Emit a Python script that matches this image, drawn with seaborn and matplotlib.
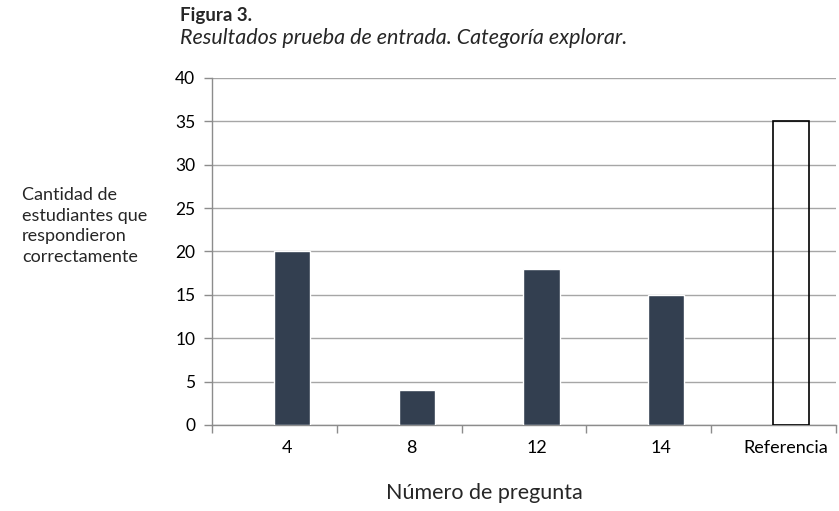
import matplotlib
matplotlib.use("Agg")
import matplotlib.pyplot as plt
import numpy as np
import pandas as pd
import seaborn as sns

# data
preguntas = ["4", "8", "12", "14", "Referencia"]
estudiantes = [20, 4, 18, 15, 35]
y_ticks = [0, 5, 10, 15, 20, 25, 30, 35, 40]

df = pd.DataFrame({"pregunta": preguntas, "estudiantes": estudiantes})

sns.set_theme(style="white")
plt.rcParams["font.family"] = ["Lato", "DejaVu Sans"]

fig = plt.figure(figsize=(8.39, 5.11), dpi=100)
ax = fig.add_axes([0.2527, 0.1683, 0.7437, 0.6791])

sns.barplot(data=df, x="pregunta", y="estudiantes", order=preguntas,
            color="#333f50", width=0.29, saturation=1, ax=ax, zorder=3)

# Excel-style offset of the bars inside each category slot
for i, patch in enumerate(ax.patches):
    patch.set_x(patch.get_x() + 0.14)
    if preguntas[i] == "Referencia":
        patch.set_facecolor("none")
        patch.set_edgecolor("black")
        patch.set_linewidth(1.2)

ax.set_xlim(-0.5, len(preguntas) - 0.5)
ax.set_ylim(0, 40)
ax.set_yticks(y_ticks)
ax.yaxis.grid(True, color="#a6a6a6", linewidth=1.0, zorder=0)
ax.set_axisbelow(True)

# labels slightly right of slot centre, tick marks on slot boundaries
ax.set_xticks(np.arange(len(preguntas)) + 0.1)
ax.set_xticklabels(preguntas)
ax.set_xticks(np.arange(len(preguntas) + 1) - 0.5, minor=True)
ax.tick_params(axis="x", which="major", length=0, pad=11, labelsize=13, colors="black")
ax.tick_params(axis="x", which="minor", length=6, width=1, color="#8c8c8c", direction="out", bottom=True)
ax.tick_params(axis="y", which="major", length=6, width=1, color="#8c8c8c", direction="out",
               left=True, pad=6, labelsize=12.5, labelcolor="black")

for side in ["top", "right"]:
    ax.spines[side].set_visible(False)
for side in ["left", "bottom"]:
    ax.spines[side].set_color("#8c8c8c")
    ax.spines[side].set_linewidth(1)

ax.set_xlabel("")
ax.set_ylabel("")

fig.text(180 / 839, 1 - 15 / 511, "Figura 3.", fontsize=13.5, fontweight="bold", va="center", ha="left")
fig.text(180 / 839, 1 - 38 / 511, "Resultados prueba de entrada. Categoría explorar.",
         fontsize=15.5, fontstyle="italic", va="center", ha="left")
fig.text(22 / 839, 1 - 226 / 511, "Cantidad de\nestudiantes que\nrespondieron\ncorrectamente",
         fontsize=13, va="center", ha="left", linespacing=1.38)
fig.text(484 / 839, 1 - 493 / 511, "Número de pregunta", fontsize=15.5, va="center", ha="center")

fig.savefig("out.png", dpi=100)
